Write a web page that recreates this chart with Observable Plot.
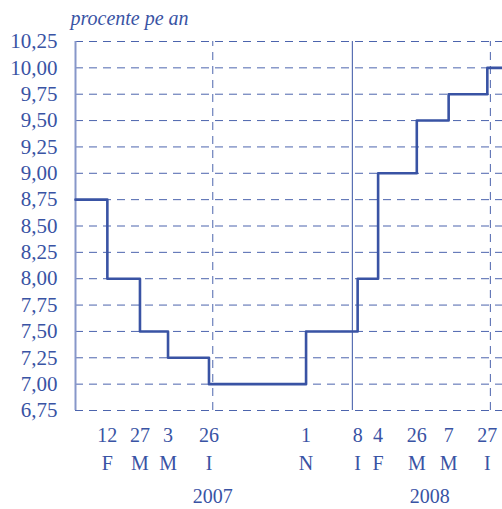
<!DOCTYPE html>
<html><head><meta charset="utf-8">
<script src="https://cdn.jsdelivr.net/npm/d3@7"></script>
<script src="https://cdn.jsdelivr.net/npm/@observablehq/plot@0.6"></script>
<style>body{margin:0;background:#fff;} #c{position:relative;width:502px;height:509px;}
#c svg text {font-family: "Liberation Serif", "DejaVu Serif", serif !important;}</style>
</head><body><div id="c"></div>
<script>
const changeDates = ["2007-01-01","2007-02-12","2007-03-27","2007-05-03","2007-06-26","2007-11-01","2008-01-08","2008-02-04","2008-03-26","2008-05-07","2008-06-27","2008-07-17"];
const rates = [8.75,8.00,7.50,7.25,7.00,7.50,8.00,9.00,9.50,9.75,10.00,10.00];
const tickDates = ["2007-02-12","2007-03-27","2007-05-03","2007-06-26","2007-11-01","2008-01-08","2008-02-04","2008-03-26","2008-05-07","2008-06-27"];
const tickDays = ["12","27","3","26","1","8","4","26","7","27"];
const tickMonths = ["F","M","M","I","N","I","F","M","M","I"];
const yTicks = [6.75,7.00,7.25,7.50,7.75,8.00,8.25,8.50,8.75,9.00,9.25,9.50,9.75,10.00,10.25];
const years = ["2007","2008"];
const yearDates = ["2007-07-01","2008-04-12"];
const halfYearLines = ["2007-07-01","2008-07-01"];
const yearLines = ["2008-01-01"];
const title = "procente pe an";

const C = "#3953a4";
const F = "Liberation Serif";
const P = d => new Date(d + "T00:00:00Z");
const line = changeDates.map((d,i) => ({date: P(d), rate: rates[i]}));
const ticks = tickDates.map((d,i) => ({date: P(d), day: tickDays[i], month: tickMonths[i]}));
const yrs = years.map((y,i) => ({date: P(yearDates[i]), label: y}));

const chart = Plot.plot({
  width: 502, height: 509,
  marginLeft: 75, marginRight: 0, marginTop: 41, marginBottom: 99,
  style: {color: C, fontFamily: F, fontSize: "19px", background: "#fff"},
  x: {type: "utc", domain: [P("2007-01-01"), P("2008-07-17")], axis: null},
  y: {domain: [6.75, 10.25], axis: null},
  marks: [
    Plot.ruleY(yTicks, {y: d => d, stroke: C, strokeWidth: 1, strokeDasharray: "8,6", strokeOpacity: 0.9}),
    Plot.ruleX(halfYearLines.map(P), {x: d => d, y1: 6.75, y2: 10.25, stroke: C, strokeDasharray: "8,6", strokeOpacity: 0.9}),
    Plot.ruleX(yearLines.map(P), {x: d => d, y1: 6.75, y2: 10.25, stroke: C, strokeWidth: 1}),
    Plot.ruleX([P("2007-01-01")], {x: d => d, y1: 6.75, y2: 10.25, stroke: "#8797c9", strokeWidth: 2}),
    Plot.text(yTicks, {y: d => d, text: d => d.toFixed(2).replace(".", ","), frameAnchor: "left", lineAnchor: "middle", dx: -18, textAnchor: "end", fontSize: 21, fontFamily: F, fill: C}),
    Plot.line(line, {x: "date", y: "rate", curve: "step-after", stroke: C, strokeWidth: 2.6}),
    Plot.text(ticks, {x: "date", text: "day", frameAnchor: "bottom", lineAnchor: "middle", dy: 25, fontSize: 20, fontFamily: F, fill: C}),
    Plot.text(ticks, {x: "date", text: "month", frameAnchor: "bottom", lineAnchor: "middle", dy: 53, fontSize: 20, fontFamily: F, fill: C}),
    Plot.text(yrs, {x: "date", text: "label", frameAnchor: "bottom", lineAnchor: "middle", dy: 86, fontSize: 20, fontFamily: F, fill: C}),
    Plot.text([title], {frameAnchor: "top-left", lineAnchor: "middle", dx: -5, dy: -23, text: d => d, fontStyle: "italic", fontSize: 20, fontFamily: F, fill: C, textAnchor: "start"})
  ]
});
document.getElementById("c").appendChild(chart);
</script></body></html>
